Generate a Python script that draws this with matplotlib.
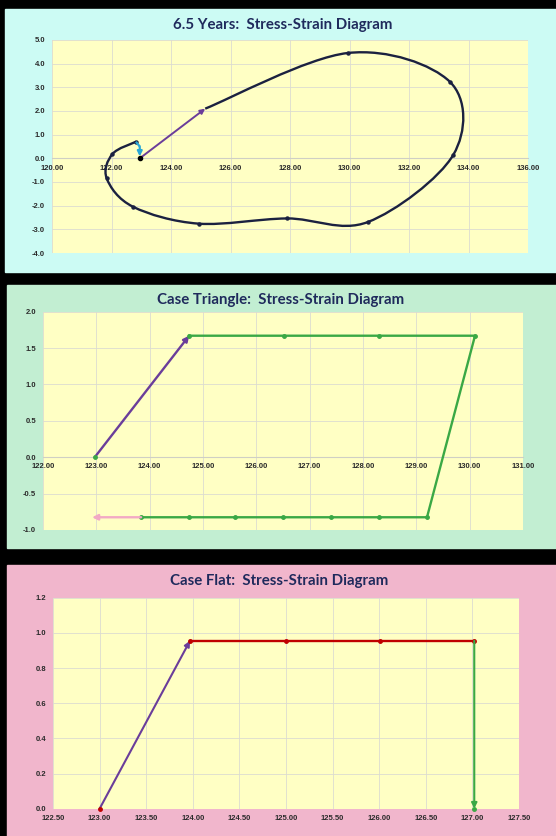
import matplotlib
matplotlib.use('Agg')
import matplotlib.pyplot as plt
import numpy as np
from matplotlib.path import Path
from matplotlib.patches import PathPatch, Rectangle
from matplotlib.ticker import FormatStrFormatter

# ---- data: 6.5 years loop ----
yr_load_x = [122.95, 125.15]
yr_load_y = [0.0, 2.10]
yr_loop_x = [125.15, 129.94, 133.37, 133.49, 130.62, 127.89, 124.93, 122.73, 121.84, 122.03, 122.82]
yr_loop_y = [2.10, 4.45, 3.24, 0.15, -2.69, -2.54, -2.76, -2.05, -0.85, 0.18, 0.70]
yr_back_x = [122.82, 122.95, 122.95]
yr_back_y = [0.70, 0.50, 0.08]

# ---- data: case triangle ----
tri_load_x = [122.97, 124.74]
tri_load_y = [0.0, 1.67]
tri_path_x = [124.74, 126.51, 128.30, 130.10, 129.20, 128.30, 127.40, 126.50, 125.60, 124.74, 123.84]
tri_path_y = [1.67, 1.67, 1.67, 1.67, -0.825, -0.825, -0.825, -0.825, -0.825, -0.825, -0.825]
tri_back_x = [123.84, 122.92]
tri_back_y = [-0.825, -0.825]

# ---- data: case flat ----
flat_load_x = [123.00, 123.97]
flat_load_y = [0.0, 0.955]
flat_top_x = [123.97, 125.00, 126.01, 127.02]
flat_top_y = [0.955, 0.955, 0.955, 0.955]
flat_drop_x = [127.02, 127.02]
flat_drop_y = [0.955, 0.0]

PURPLE = '#6a3d9a'
NAVY = '#1b2140'
GREEN = '#3aa845'
RED = '#c00000'
PINK = '#f2a9c4'
CYAN = '#2aa7d6'
YELLOW = '#ffffc4'
TITLE_C = '#1f2a5c'
W, H = 556, 836


def smooth_path(xs, ys):
    # Excel-style smoothed line (Bezier through the points)
    pts = np.column_stack([xs, ys])
    p = np.vstack([pts[0], pts, pts[-1]])
    verts = [pts[0]]
    codes = [Path.MOVETO]
    for i in range(1, len(p) - 2):
        p0, p1, p2, p3 = p[i - 1], p[i], p[i + 1], p[i + 2]
        verts += [p1 + (p2 - p0) / 6, p2 - (p3 - p1) / 6, p2]
        codes += [Path.CURVE4] * 3
    return Path(verts, codes)


def arrow(ax, x, y, color, lw=1.6, ms=8):
    ax.annotate('', xy=(x[-1], y[-1]), xytext=(x[0], y[0]),
                arrowprops=dict(arrowstyle='-|>', color=color, lw=lw,
                                mutation_scale=ms, shrinkA=0, shrinkB=0))


def setup(rect, xlim, xstep, ylim, ystep, xfmt, yfmt):
    l, t, r, b = rect
    ax = fig.add_axes([l / W, 1 - b / H, (r - l) / W, (b - t) / H])
    ax.set_facecolor(YELLOW)
    ax.set_xlim(*xlim)
    ax.set_ylim(*ylim)
    ax.set_xticks(np.arange(xlim[0], xlim[1] + xstep / 2, xstep))
    ax.set_yticks(np.arange(ylim[0], ylim[1] + ystep / 2, ystep))
    ax.xaxis.set_major_formatter(FormatStrFormatter(xfmt))
    ax.yaxis.set_major_formatter(FormatStrFormatter(yfmt))
    ax.grid(True, color='#dcdcd0', lw=0.6)
    ax.set_axisbelow(True)
    for s in ['top', 'right', 'left']:
        ax.spines[s].set_visible(False)
    ax.spines['bottom'].set_position(('data', 0))
    ax.spines['bottom'].set_color('#cfcfc4')
    ax.spines['bottom'].set_linewidth(0.8)
    ax.tick_params(length=0, labelsize=5.5, labelcolor='#2b2b2b')
    ax.tick_params(axis='x', pad=4.5)
    ax.tick_params(axis='y', pad=5)
    for lab in ax.get_xticklabels() + ax.get_yticklabels():
        lab.set_fontweight('bold')
        lab.set_fontfamily('Liberation Sans')
    return ax


fig = plt.figure(figsize=(W / 100, H / 100), dpi=100, facecolor='black')

# panel backgrounds
for (x0, y0, x1, y1, c) in [(5, 9.5, 556, 272, '#ccfbf4'),
                            (7, 285, 556, 548, '#c2eed2'),
                            (7, 565, 556, 836, '#f1b6cc')]:
    fig.patches.append(Rectangle((x0 / W, 1 - y1 / H), (x1 - x0) / W, (y1 - y0) / H,
                                 transform=fig.transFigure, color=c, zorder=-5))

title_kw = dict(ha='center', va='center', fontsize=10.8, fontweight='bold',
                color=TITLE_C, family=['Lato', 'DejaVu Sans'])
fig.text(283 / W, 1 - 25 / H, '6.5 Years:  Stress-Strain Diagram', **title_kw)
fig.text(281 / W, 1 - 300 / H, 'Case Triangle:  Stress-Strain Diagram', **title_kw)
fig.text(279 / W, 1 - 581.5 / H, 'Case Flat:  Stress-Strain Diagram', **title_kw)

# ---- top: 6.5 years ----
ax1 = setup((52, 40, 528, 253), (120, 136), 2, (-4, 5), 1, '%.2f', '%.1f')
ax1.add_patch(PathPatch(smooth_path(yr_loop_x, yr_loop_y), fill=False, ec=NAVY, lw=1.7, zorder=3))
ax1.plot(yr_loop_x[1:], yr_loop_y[1:], 'o', color=NAVY, ms=2.2, zorder=4)
arrow(ax1, yr_load_x, yr_load_y, PURPLE, lw=1.4, ms=7)
ax1.add_patch(PathPatch(smooth_path(yr_back_x[:-1], yr_back_y[:-1]), fill=False, ec=CYAN, lw=1.6, zorder=4))
arrow(ax1, yr_back_x[1:], yr_back_y[1:], CYAN, lw=1.6, ms=7)
ax1.plot(yr_load_x[0], yr_load_y[0], 'o', color='black', ms=3, zorder=5)

# ---- middle: case triangle ----
ax2 = setup((43, 311.7, 523, 530), (122, 131), 1, (-1, 2), 0.5, '%.2f', '%.1f')
arrow(ax2, tri_load_x, tri_load_y, PURPLE, lw=1.7)
ax2.plot(tri_path_x, tri_path_y, '-o', color=GREEN, lw=1.7, ms=2.5, zorder=3)
arrow(ax2, tri_back_x, tri_back_y, PINK, lw=1.7)
ax2.plot(tri_load_x[0], tri_load_y[0], 'o', color=GREEN, ms=2.5, zorder=5)

# ---- bottom: case flat ----
ax3 = setup((53, 597.7, 519, 808.7), (122.5, 127.5), 0.5, (0, 1.2), 0.2, '%.2f', '%.1f')
ax3.spines['bottom'].set_visible(False)
arrow(ax3, flat_load_x, flat_load_y, PURPLE, lw=1.5)
ax3.plot(flat_top_x, flat_top_y, '-o', color=RED, lw=1.7, ms=2.5, zorder=3)
arrow(ax3, flat_drop_x, flat_drop_y, GREEN, lw=1.5)
ax3.plot(flat_drop_x[-1], flat_drop_y[-1], 'o', color=GREEN, ms=2.5, zorder=5, clip_on=False)
ax3.plot(flat_load_x[0], flat_load_y[0], 'o', color=RED, ms=2.5, zorder=5, clip_on=False)

fig.savefig('out.png', dpi=100, facecolor=fig.get_facecolor())
